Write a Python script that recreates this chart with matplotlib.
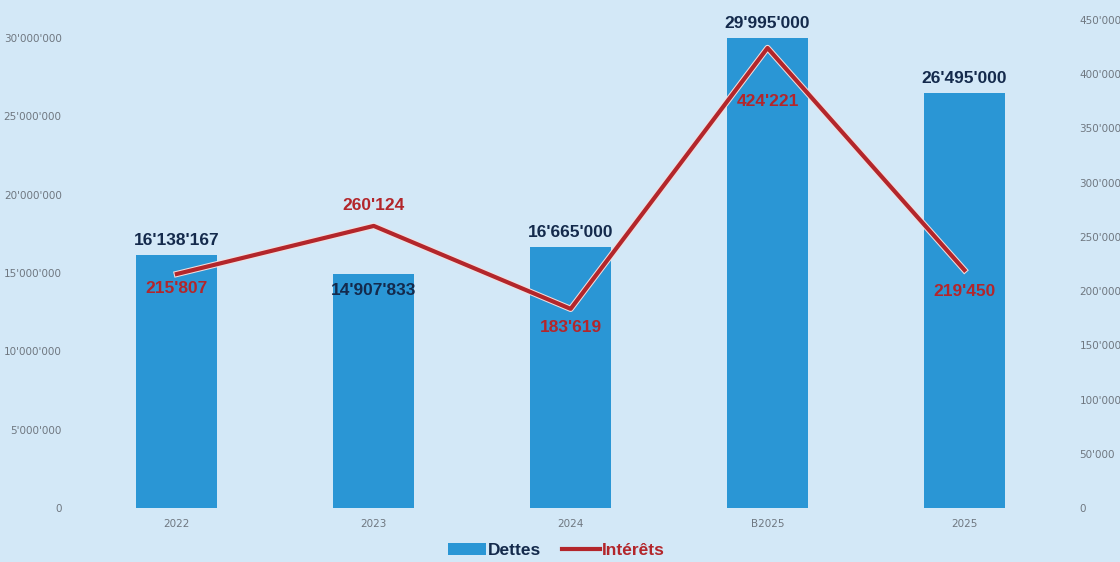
import matplotlib.pyplot as plt
from matplotlib.patches import Patch
from matplotlib.lines import Line2D
import matplotlib.patheffects as pe

# data
years = ['2022', '2023', '2024', 'B2025', '2025']
dettes = [16138167, 14907833, 16665000, 29995000, 26495000]
interets = [215807, 260124, 183619, 424221, 219450]

left_ticks = [0, 5000000, 10000000, 15000000, 20000000, 25000000, 30000000]
right_ticks = [0, 50000, 100000, 150000, 200000, 250000, 300000, 350000, 400000, 450000]

BG = '#d3e8f7'
BAR = '#2a96d5'
LINE = '#b3262b'
NAVY = '#142a4c'
TICK = '#6f7780'


def swiss(v):
    return f"{v:,.0f}".replace(',', "'")


fig = plt.figure(figsize=(11.2, 5.62), dpi=100, facecolor=BG)
ax = fig.add_axes([0.070, 0.0961, 0.879, 0.8683])
ax.set_facecolor(BG)
ax2 = ax.twinx()

x = range(len(years))
ax.bar(x, dettes, width=0.41, color=BAR, zorder=2)
ax2.plot(x, interets, color=LINE, linewidth=3, zorder=3,
         path_effects=[pe.Stroke(linewidth=4.5, foreground='#f3dede'), pe.Normal()])

ax.set_xlim(-0.5, len(years) - 0.5)
ax.set_ylim(0, 31150000)
ax2.set_ylim(0, 450000)

ax.set_yticks(left_ticks)
ax.set_yticklabels([swiss(v) for v in left_ticks])
ax2.set_yticks(right_ticks)
ax2.set_yticklabels([swiss(v) for v in right_ticks])
ax.set_xticks(list(x))
ax.set_xticklabels(years)

for a in (ax, ax2):
    for s in a.spines.values():
        s.set_visible(False)
    a.tick_params(length=0, labelsize=7.5, labelcolor=TICK)
ax.tick_params(axis='y', pad=12)
ax2.tick_params(axis='y', pad=12)
ax.tick_params(axis='x', pad=8)

# data labels: (offset in points, vertical alignment)
bar_offsets = [(5, 'bottom'), (-6, 'top'), (5, 'bottom'), (5, 'bottom'), (5, 'bottom')]
line_offsets = [(-5, 'top'), (9, 'bottom'), (-8, 'top'), (-33, 'top'), (-10, 'top')]

for i, v in enumerate(dettes):
    off, va = bar_offsets[i]
    ax.annotate(swiss(v), (i, v), xytext=(0, off), textcoords='offset points',
                ha='center', va=va, fontsize=12.5, fontweight='bold',
                color=NAVY, family='Liberation Sans', zorder=5)

for i, v in enumerate(interets):
    off, va = line_offsets[i]
    ax2.annotate(swiss(v), (i, v), xytext=(0, off), textcoords='offset points',
                 ha='center', va=va, fontsize=12.5, fontweight='bold',
                 color=LINE, family='Liberation Sans', zorder=5)

handles = [Patch(facecolor=BAR, edgecolor='none'),
           Line2D([0], [0], color=LINE, linewidth=3)]
leg = fig.legend(handles, ['Dettes', 'Intérêts'], loc='center',
                 bbox_to_anchor=(0.497, 0.02), ncol=2, frameon=False,
                 handlelength=2.2, handletextpad=0.1, columnspacing=1.2,
                 prop={'family': 'Liberation Sans', 'weight': 'bold', 'size': 12.5})
leg.get_texts()[0].set_color(NAVY)
leg.get_texts()[1].set_color(LINE)

fig.savefig('out.png', dpi=100, facecolor=BG)
